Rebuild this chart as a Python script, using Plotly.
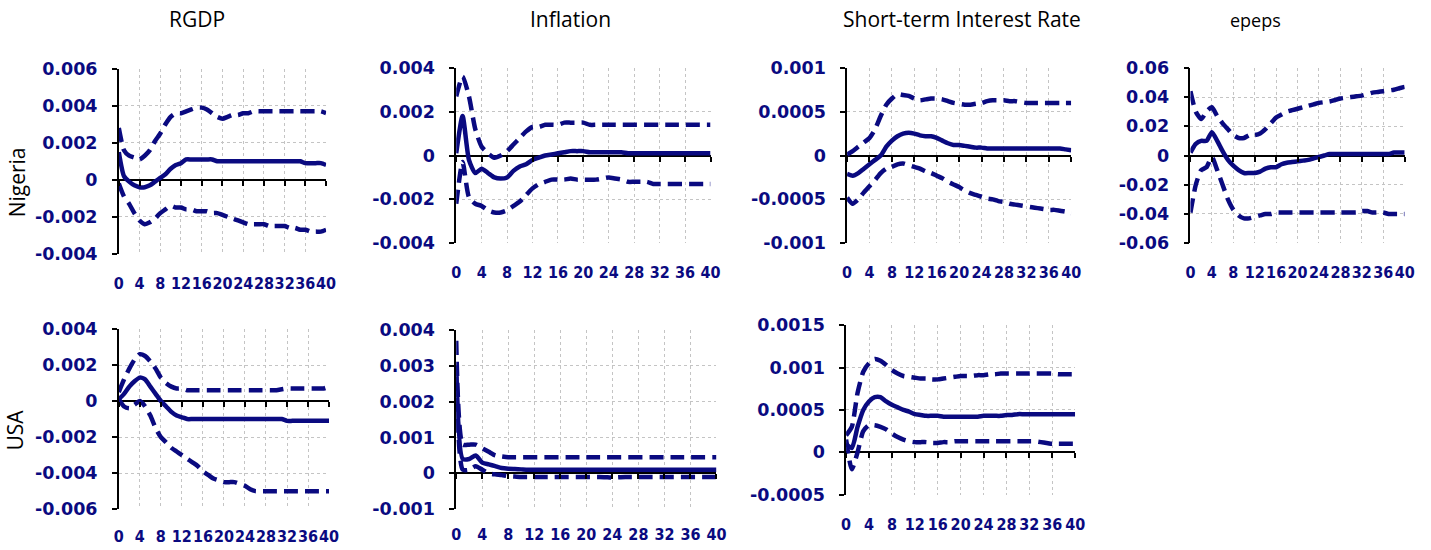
import plotly.graph_objects as go

# ---------------- data ----------------
horizon = list(range(41))
x_ticks = list(range(0, 41, 4))
x_ticktext = [str(v) for v in x_ticks]

titles = ["RGDP", "Inflation", "Short-term Interest Rate", "epeps"]
row_labels = ["Nigeria", "USA"]

# Nigeria - RGDP
ng_rgdp_mid = [0.0015, 0.0002, -0.0001, -0.0003, -0.0004, -0.0004, -0.0003, -0.0001, 0.0001, 0.0003,
               0.0006, 0.0008, 0.0009, 0.0011, 0.0011, 0.0011, 0.0011, 0.0011, 0.0011, 0.0010,
               0.0010, 0.0010, 0.0010, 0.0010, 0.0010, 0.0010, 0.0010, 0.0010, 0.0010, 0.0010,
               0.0010, 0.0010, 0.0010, 0.0010, 0.0010, 0.0010, 0.0009, 0.0009, 0.0009, 0.0009, 0.0008]
ng_rgdp_up = [0.0028, 0.0016, 0.0013, 0.0012, 0.0011, 0.0013, 0.0016, 0.0021, 0.0025, 0.0030,
              0.0034, 0.0036, 0.0036, 0.0037, 0.0038, 0.0039, 0.0039, 0.0038, 0.0036, 0.0034,
              0.0033, 0.0034, 0.0035, 0.0035, 0.0036, 0.0036, 0.0037, 0.0037, 0.0037, 0.0037,
              0.0037, 0.0037, 0.0037, 0.0037, 0.0037, 0.0037, 0.0037, 0.0037, 0.0037, 0.0037, 0.0036]
ng_rgdp_lo = [-0.0002, -0.0009, -0.0013, -0.0018, -0.0022, -0.0024, -0.0023, -0.0021, -0.0018, -0.0016,
              -0.0014, -0.0015, -0.0015, -0.0016, -0.0016, -0.0017, -0.0017, -0.0017, -0.0018, -0.0018,
              -0.0019, -0.0020, -0.0021, -0.0022, -0.0023, -0.0024, -0.0024, -0.0024, -0.0024, -0.0025,
              -0.0025, -0.0025, -0.0025, -0.0026, -0.0026, -0.0027, -0.0027, -0.0028, -0.0028, -0.0028, -0.0027]

# Nigeria - Inflation
ng_inf_mid = [0.0001, 0.0018, -0.0002, -0.0008, -0.0006, -0.0008, -0.0010, -0.00105, -0.0010, -0.0007,
              -0.0005, -0.0004, -0.0002, -0.0001, 0.0, 0.00005, 0.0001, 0.00015, 0.0002, 0.0002,
              0.0002, 0.00015, 0.00015, 0.00015, 0.00015, 0.00015, 0.00015, 0.0001, 0.0001, 0.0001,
              0.0001, 0.0001, 0.0001, 0.0001, 0.0001, 0.0001, 0.0001, 0.0001, 0.0001, 0.0001, 0.0001]
ng_inf_up = [0.0027, 0.0036, 0.0027, 0.0012, 0.0004, 0.0001, -0.0001, 0.0, 0.0002, 0.0005,
             0.0008, 0.0011, 0.0013, 0.0013, 0.0014, 0.0014, 0.0014, 0.0015, 0.0015, 0.0015,
             0.0015, 0.0014, 0.0014, 0.0014, 0.0014, 0.0014, 0.0014, 0.0014, 0.0014, 0.0014,
             0.0014, 0.0014, 0.0014, 0.0014, 0.0014, 0.0014, 0.0014, 0.0014, 0.0014, 0.0014, 0.0014]
ng_inf_lo = [-0.0022, -0.0003, -0.0019, -0.0022, -0.0023, -0.0025, -0.0026, -0.0026, -0.0025, -0.0023,
             -0.0021, -0.0018, -0.0015, -0.0013, -0.0012, -0.0011, -0.0011, -0.0011, -0.00105, -0.0011,
             -0.0011, -0.0011, -0.0011, -0.00105, -0.0010, -0.00105, -0.0011, -0.0012, -0.0012, -0.0012,
             -0.0012, -0.0013, -0.0013, -0.0013, -0.0013, -0.0013, -0.0013, -0.0013, -0.0013, -0.0013, -0.0013]

# Nigeria - Short-term interest rate
ng_str_mid = [-0.00021, -0.00023, -0.0002, -0.00015, -0.0001, -0.00005, 0.0, 0.0001, 0.00017, 0.00022,
              0.00025, 0.00026, 0.00025, 0.00023, 0.00022, 0.00022, 0.0002, 0.00017, 0.00014, 0.00012,
              0.00012, 0.00011, 0.0001, 0.00009, 0.00009, 0.00008, 0.00008, 0.00008, 0.00008, 0.00008,
              0.00008, 0.00008, 0.00008, 0.00008, 0.00008, 0.00008, 0.00008, 0.00008, 0.00008, 0.00007, 0.00006]
ng_str_up = [0.00001, 0.00005, 0.0001, 0.00015, 0.0002, 0.0003, 0.00045, 0.00058, 0.00065, 0.0007,
             0.00069, 0.00068, 0.00065, 0.00063, 0.00064, 0.00065, 0.00065, 0.00064, 0.00062, 0.0006,
             0.00059, 0.00058, 0.00058, 0.00059, 0.0006, 0.00062, 0.00063, 0.00063, 0.00063, 0.00062,
             0.00062, 0.00061, 0.0006, 0.0006, 0.0006, 0.0006, 0.0006, 0.0006, 0.0006, 0.0006, 0.0006]
ng_str_lo = [-0.00048, -0.00055, -0.0005, -0.00042, -0.00035, -0.00028, -0.0002, -0.00015, -0.00013, -0.0001,
             -0.00009, -0.00011, -0.00013, -0.00015, -0.00018, -0.0002, -0.00023, -0.00026, -0.0003, -0.00033,
             -0.00036, -0.0004, -0.00043, -0.00045, -0.00047, -0.00049, -0.0005, -0.00052, -0.00053, -0.00055,
             -0.00056, -0.00057, -0.00058, -0.00059, -0.0006, -0.00061, -0.00062, -0.00062, -0.00063, -0.00064, -0.00066]

# Nigeria - epeps
ng_ep_mid = [0.002, 0.008, 0.010, 0.010, 0.016, 0.010, 0.003, -0.003, -0.007, -0.010,
             -0.012, -0.012, -0.012, -0.011, -0.009, -0.008, -0.008, -0.006, -0.005, -0.0045,
             -0.004, -0.0035, -0.003, -0.002, -0.001, 0.0, 0.001, 0.001, 0.001, 0.001,
             0.001, 0.001, 0.001, 0.001, 0.001, 0.001, 0.001, 0.001, 0.002, 0.002, 0.002]
ng_ep_up = [0.044, 0.030, 0.025, 0.030, 0.033, 0.027, 0.022, 0.018, 0.014, 0.012,
            0.012, 0.014, 0.014, 0.015, 0.018, 0.022, 0.026, 0.028, 0.030, 0.031,
            0.032, 0.033, 0.034, 0.035, 0.036, 0.0365, 0.037, 0.038, 0.039, 0.0395,
            0.040, 0.0405, 0.041, 0.042, 0.043, 0.0435, 0.044, 0.0445, 0.045, 0.046, 0.047]
ng_ep_lo = [-0.039, -0.020, -0.010, -0.008, -0.001, -0.010, -0.020, -0.030, -0.037, -0.041,
            -0.043, -0.043, -0.042, -0.041, -0.040, -0.040, -0.039, -0.039, -0.039, -0.039,
            -0.039, -0.039, -0.039, -0.039, -0.039, -0.039, -0.039, -0.039, -0.039, -0.039,
            -0.039, -0.039, -0.038, -0.038, -0.039, -0.039, -0.039, -0.040, -0.040, -0.040, -0.040]

# USA - RGDP
us_rgdp_mid = [0.0001, 0.0004, 0.0008, 0.0011, 0.0013, 0.0012, 0.0008, 0.0004, 0.0, -0.0003,
               -0.0006, -0.0008, -0.0009, -0.0010, -0.0010, -0.0010, -0.0010, -0.0010, -0.0010, -0.0010,
               -0.0010, -0.0010, -0.0010, -0.0010, -0.0010, -0.0010, -0.0010, -0.0010, -0.0010, -0.0010,
               -0.0010, -0.0010, -0.0011, -0.0011, -0.0011, -0.0011, -0.0011, -0.0011, -0.0011, -0.0011, -0.0011]
us_rgdp_up = [0.0005, 0.0012, 0.0018, 0.0023, 0.0026, 0.0025, 0.0022, 0.0018, 0.0013, 0.0010,
              0.0008, 0.0007, 0.0007, 0.0006, 0.0006, 0.0006, 0.0006, 0.0006, 0.0006, 0.0006,
              0.0006, 0.0006, 0.0006, 0.0006, 0.0006, 0.0006, 0.0006, 0.0006, 0.0006, 0.0006,
              0.0006, 0.00065, 0.0007, 0.0007, 0.0007, 0.0007, 0.0007, 0.0007, 0.0007, 0.0007, 0.0008]
us_rgdp_lo = [0.0001, -0.0003, -0.0004, -0.0002, 0.0, -0.0003, -0.0008, -0.0015, -0.0020, -0.0023,
              -0.0026, -0.0028, -0.0030, -0.0032, -0.0034, -0.0036, -0.0039, -0.0041, -0.0043, -0.0044,
              -0.0045, -0.0045, -0.0045, -0.0046, -0.0047, -0.0049, -0.0050, -0.0050, -0.0050, -0.0050,
              -0.0050, -0.0050, -0.0050, -0.0050, -0.0050, -0.0050, -0.0050, -0.0050, -0.0050, -0.0050, -0.0050]

# USA - Inflation
us_inf_mid = [0.0030, 0.0004, 0.0004, 0.0005, 0.0003, 0.00025, 0.0002, 0.00015, 0.00013, 0.00012,
              0.00011, 0.0001, 0.0001, 0.0001, 0.0001, 0.0001, 0.0001, 0.0001, 0.0001, 0.0001,
              0.0001, 0.0001, 0.0001, 0.0001, 0.0001, 0.0001, 0.0001, 0.0001, 0.0001, 0.0001,
              0.0001, 0.0001, 0.0001, 0.0001, 0.0001, 0.0001, 0.0001, 0.0001, 0.0001, 0.0001, 0.0001]
us_inf_up = [0.0037, 0.0008, 0.0008, 0.0008, 0.0007, 0.0006, 0.0005, 0.00047, 0.00045, 0.00045,
             0.00045, 0.00045, 0.00045, 0.00045, 0.00045, 0.00045, 0.00045, 0.00045, 0.00045, 0.00045,
             0.00045, 0.00045, 0.00045, 0.00045, 0.00045, 0.00045, 0.00045, 0.00045, 0.00045, 0.00045,
             0.00045, 0.00045, 0.00045, 0.00045, 0.00045, 0.00045, 0.00045, 0.00045, 0.00045, 0.00045, 0.00045]
us_inf_lo = [0.0027, 0.0001, 0.0001, 0.0002, 0.0001, 0.0, -0.00003, -0.00005, -0.00008, -0.00009,
             -0.0001, -0.0001, -0.0001, -0.0001, -0.0001, -0.0001, -0.0001, -0.0001, -0.0001, -0.0001,
             -0.0001, -0.0001, -0.0001, -0.00011, -0.00012, -0.00011, -0.0001, -0.0001, -0.0001, -0.0001,
             -0.0001, -0.0001, -0.0001, -0.0001, -0.0001, -0.0001, -0.0001, -0.0001, -0.0001, -0.0001, -0.0001]

# USA - Short-term interest rate
us_str_mid = [0.0001, 0.00005, 0.0003, 0.0005, 0.0006, 0.00065, 0.00065, 0.0006, 0.00056, 0.00053,
              0.0005, 0.00048, 0.00045, 0.00044, 0.00043, 0.00043, 0.00043, 0.00042, 0.00042, 0.00042,
              0.00042, 0.00042, 0.00042, 0.00042, 0.00043, 0.00043, 0.00043, 0.00043, 0.00044, 0.00044,
              0.00045, 0.00045, 0.00045, 0.00045, 0.00045, 0.00045, 0.00045, 0.00045, 0.00045, 0.00045, 0.00045]
us_str_up = [0.0002, 0.0003, 0.0007, 0.00095, 0.00105, 0.0011, 0.00108, 0.00103, 0.00097, 0.00093,
             0.0009, 0.00089, 0.00088, 0.00087, 0.00087, 0.00086, 0.00086, 0.00087, 0.00088, 0.00089,
             0.0009, 0.0009, 0.0009, 0.00091, 0.00091, 0.00092, 0.00092, 0.00093, 0.00093, 0.00093,
             0.00093, 0.00093, 0.00093, 0.00093, 0.00093, 0.00093, 0.00093, 0.00092, 0.00092, 0.00092, 0.00092]
us_str_lo = [0.00015, -0.0002, 0.0, 0.00025, 0.00032, 0.00032, 0.0003, 0.00027, 0.00022, 0.00018,
             0.00015, 0.00013, 0.00012, 0.00012, 0.00012, 0.00011, 0.00011, 0.00012, 0.00012, 0.00013,
             0.00013, 0.00013, 0.00013, 0.00013, 0.00013, 0.00013, 0.00013, 0.00013, 0.00013, 0.00013,
             0.00013, 0.00013, 0.00013, 0.00013, 0.00012, 0.00011, 0.0001, 0.0001, 0.0001, 0.0001, 0.0001]

# y tick values / labels per panel
y_ticks_ng_rgdp = [-0.004, -0.002, 0, 0.002, 0.004, 0.006]
y_text_ng_rgdp = ["-0.004", "-0.002", "0", "0.002", "0.004", "0.006"]
y_ticks_ng_inf = [-0.004, -0.002, 0, 0.002, 0.004]
y_text_ng_inf = ["-0.004", "-0.002", "0", "0.002", "0.004"]
y_ticks_ng_str = [-0.001, -0.0005, 0, 0.0005, 0.001]
y_text_ng_str = ["-0.001", "-0.0005", "0", "0.0005", "0.001"]
y_ticks_ng_ep = [-0.06, -0.04, -0.02, 0, 0.02, 0.04, 0.06]
y_text_ng_ep = ["-0.06", "-0.04", "-0.02", "0", "0.02", "0.04", "0.06"]
y_ticks_us_rgdp = [-0.006, -0.004, -0.002, 0, 0.002, 0.004]
y_text_us_rgdp = ["-0.006", "-0.004", "-0.002", "0", "0.002", "0.004"]
y_ticks_us_inf = [-0.001, 0, 0.001, 0.002, 0.003, 0.004]
y_text_us_inf = ["-0.001", "0", "0.001", "0.002", "0.003", "0.004"]
y_ticks_us_str = [-0.0005, 0, 0.0005, 0.001, 0.0015]
y_text_us_str = ["-0.0005", "0", "0.0005", "0.001", "0.0015"]

# ---------------- layout of panels (pixels) ----------------
W, H = 1431, 550
NAVY = "#0a0a80"
GRID = "#c4c4c4"
YTICKFONT = dict(family="DejaVu Sans", size=17.5, color=NAVY, weight="bold")
XTICKFONT = dict(family="DejaVu Sans Condensed, DejaVu Sans", size=16, color=NAVY, weight="bold")

panels = [
    # (mid, up, lo, yticks, ytext, px_left, px_right, px_top, px_bottom, xlabel_standoff)
    (ng_rgdp_mid, ng_rgdp_up, ng_rgdp_lo, y_ticks_ng_rgdp, y_text_ng_rgdp, 115, 324.5, 61, 253, 18),
    (ng_inf_mid, ng_inf_up, ng_inf_lo, y_ticks_ng_inf, y_text_ng_inf, 456, 713, 60, 242, 18),
    (ng_str_mid, ng_str_up, ng_str_lo, y_ticks_ng_str, y_text_ng_str, 851, 1077.5, 60, 242, 18),
    (ng_ep_mid, ng_ep_up, ng_ep_lo, y_ticks_ng_ep, y_text_ng_ep, 1198, 1414.5, 60, 242, 18),
    (us_rgdp_mid, us_rgdp_up, us_rgdp_lo, y_ticks_us_rgdp, y_text_us_rgdp, 115, 327.5, 331, 518, 16),
    (us_inf_mid, us_inf_up, us_inf_lo, y_ticks_us_inf, y_text_us_inf, 456, 719, 332, 518, 14),
    (us_str_mid, us_str_up, us_str_lo, y_ticks_us_str, y_text_us_str, 850, 1081.5, 327, 503, 18),
]

fig = go.Figure()
layout = {}
n = len(panels)
for i, (mid, up, lo, yt, ytx, l, r, t, b, xso) in enumerate(panels):
    k = i + 1
    sx = "" if k == 1 else str(k)
    xname, yname = "x" + sx, "y" + sx
    for series, dash in ((up, "14px,7px"), (lo, "14px,7px"), (mid, "solid")):
        fig.add_trace(go.Scatter(
            x=horizon, y=series, mode="lines", xaxis=xname, yaxis=yname,
            line=dict(color=NAVY, width=4.5, dash=dash, shape="spline", smoothing=0.6),
            showlegend=False, hoverinfo="skip"))
    ymin, ymax = yt[0], yt[-1]
    dom_x = [l / W, r / W]
    dom_y = [1 - b / H, 1 - t / H]
    layout["xaxis" + sx] = dict(
        domain=dom_x, anchor=yname, range=[0, 40], tickmode="array",
        tickvals=x_ticks, ticktext=x_ticktext, tickangle=0, tickfont=XTICKFONT,
        showgrid=True, gridcolor=GRID, griddash="dot", gridwidth=1,
        showline=False, ticks="", zeroline=False, ticklabelstandoff=int(xso))
    layout["yaxis" + sx] = dict(
        domain=dom_y, anchor=xname, range=[ymin, ymax], tickmode="array",
        tickvals=yt, ticktext=ytx, tickfont=YTICKFONT,
        showgrid=True, gridcolor=GRID, griddash="dot", gridwidth=1,
        showline=True, linecolor="black", linewidth=1.5,
        ticks="outside", ticklen=5, tickcolor="black", tickwidth=1.5,
        zeroline=True, zerolinecolor="black", zerolinewidth=1.5,
        ticklabelstandoff=11)
    # overlay axis drawn at y = 0 carrying the small tick marks
    ko = k + n
    zero_pos = dom_y[0] + (0 - ymin) / (ymax - ymin) * (dom_y[1] - dom_y[0])
    layout["xaxis" + str(ko)] = dict(
        overlaying=xname, anchor="free", position=zero_pos, side="bottom",
        range=[0, 40], tickmode="array", tickvals=x_ticks,
        ticks="outside", ticklen=5, tickcolor="black", tickwidth=1.5,
        showticklabels=False, showgrid=False, zeroline=False, showline=False)
    fig.add_trace(go.Scatter(x=[None], y=[None], xaxis="x" + str(ko), yaxis=yname,
                             mode="lines", showlegend=False, hoverinfo="skip"))

annotations = []
title_pos = [(194, 9, 21), (571.5, 9, 21), (967, 9, 21), (1264, 10, 18)]
for txt, (cx, cy, fs) in zip(titles, title_pos):
    annotations.append(dict(text=txt, x=cx / W, y=1 - cy / H, xref="paper", yref="paper",
                            showarrow=False, xanchor="center", yanchor="middle",
                            font=dict(family="Open Sans", size=fs, color="black")))
for txt, (cx, cy) in zip(row_labels, [(13, 179), (10, 435.5)]):
    annotations.append(dict(text=txt, x=cx / W, y=1 - cy / H, xref="paper", yref="paper",
                            showarrow=False, xanchor="center", yanchor="middle", textangle=-90,
                            font=dict(family="Open Sans", size=21, color="black")))

fig.update_layout(
    width=W, height=H, margin=dict(l=0, r=0, t=0, b=0),
    paper_bgcolor="white", plot_bgcolor="white", showlegend=False,
    annotations=annotations, **layout)

fig.write_html("out.html", config={"displayModeBar": False},
               post_script="document.body.style.margin='0';document.body.style.overflow='hidden';")
